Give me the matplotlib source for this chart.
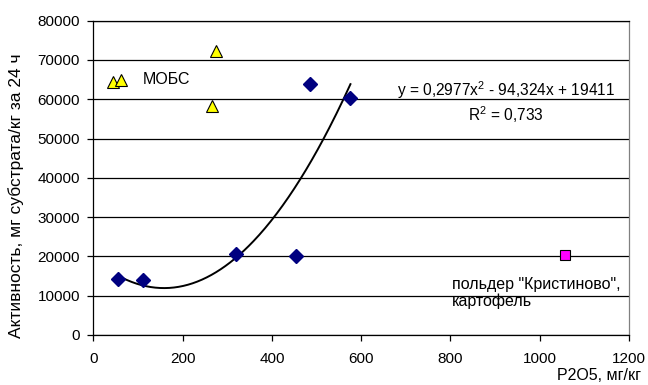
import numpy as np
import matplotlib
matplotlib.use("Agg")
import matplotlib.pyplot as plt

plt.rcParams['font.family'] = ['Liberation Sans', 'DejaVu Sans']
plt.rcParams['mathtext.fontset'] = 'custom'
plt.rcParams['mathtext.rm'] = 'Liberation Sans'
plt.rcParams['mathtext.it'] = 'Liberation Sans'
plt.rcParams['mathtext.default'] = 'regular'

# data
blue_x = [55, 112, 319, 453, 485, 576]
blue_y = [14200, 14000, 20700, 20000, 63900, 60200]
mobs_x = [45, 62, 275, 265]
mobs_y = [64500, 64900, 72300, 58400]
pold_x = [1057]
pold_y = [20300]
trend_coef = [0.2977, -94.324, 19411]

fig = plt.figure(figsize=(6.48, 3.85), dpi=100)
ax = fig.add_axes([0.144, 0.1299, 0.8267, 0.8163])

ax.set_xlim(0, 1200)
ax.set_ylim(0, 80000)
ax.set_xticks(np.arange(0, 1201, 200))
ax.set_yticks(np.arange(0, 80001, 10000))
ax.yaxis.grid(True, color='black', linewidth=0.9)
ax.set_axisbelow(True)
ax.tick_params(direction='out', length=4, width=0.9, labelsize=11, color='black')
ax.tick_params(axis='x', pad=8)
ax.tick_params(axis='y', pad=5.5)
for s in ['left', 'bottom', 'top']:
    ax.spines[s].set_color('black')
    ax.spines[s].set_linewidth(0.9)
ax.spines['right'].set_color('#808080')
ax.spines['right'].set_linewidth(0.9)

xs = np.linspace(min(blue_x), max(blue_x), 200)
ax.plot(xs, np.polyval(trend_coef, xs), color='black', linewidth=1.4, zorder=2)

ax.plot(blue_x, blue_y, linestyle='none', marker='D', markersize=7,
        color='#000080', zorder=3)
ax.plot(mobs_x, mobs_y, linestyle='none', marker='^', markersize=9,
        markerfacecolor='#FFFF00', markeredgecolor='black', markeredgewidth=0.8, zorder=3)
ax.plot(pold_x, pold_y, linestyle='none', marker='s', markersize=7,
        markerfacecolor='#FF00FF', markeredgecolor='black', markeredgewidth=0.8, zorder=3)

ax.text(111, 65100, 'МОБС', fontsize=11.5, ha='left', va='center')
ax.text(925, 62400, 'y = 0,2977x$^2$ - 94,324x + 19411', fontsize=11.2, ha='center', va='center')
ax.text(925, 56000, 'R$^2$ = 0,733', fontsize=11.2, ha='center', va='center')
ax.text(803, 12900, 'польдер "Кристиново",', fontsize=11.5, ha='left', va='center')
ax.text(803, 8500, 'картофель', fontsize=11.5, ha='left', va='center')

fig.text(16.5 / 648, 1 - 196 / 385, 'Активность, мг субстрата/кг за 24 ч',
         fontsize=12.5, rotation=90, ha='center', va='center')
fig.text(641 / 648, 1.5 / 385, 'P2O5, мг/кг', fontsize=11.5, ha='right', va='bottom')

fig.savefig('out.png', dpi=100)
